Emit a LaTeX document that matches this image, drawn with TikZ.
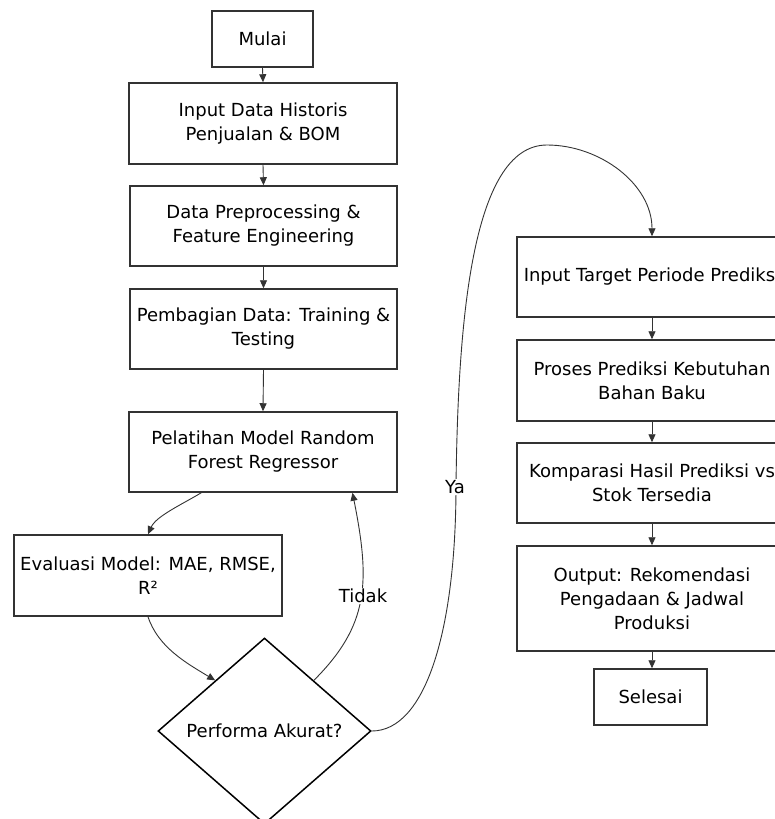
\documentclass[tikz,border=0pt]{standalone}
\usepackage{fontspec}
\setmainfont{DejaVu Sans}
\usetikzlibrary{arrows.meta,shapes.geometric,calc}
\definecolor{ink}{HTML}{333333}
\begin{document}
\begin{tikzpicture}[x=1pt,y=-1pt,
  font=\fontsize{18}{24}\selectfont,
  box/.style={draw=ink,line width=1.5pt,fill=white,align=center,inner sep=0pt,text=black},
  decision/.style={diamond,draw=black,line width=1.5pt,fill=white,inner sep=0pt,aspect=1.145,minimum width=213pt,minimum height=186pt},
  conn/.style={draw=ink,line width=0.9pt,-{Triangle[length=8pt,width=7pt]}},
  lbl/.style={fill=white,inner sep=1pt,text=black}]
\useasboundingbox (0,0) rectangle (774,819);
\fill[white] (0,0) rectangle (774,819);
% left column
\node[box,minimum width=101pt,minimum height=56pt] (mulai) at (262.5,39) {Mulai};
\node[box,minimum width=268pt,minimum height=81pt] (input) at (263,123.5) {Input Data Historis\\Penjualan \& BOM};
\node[box,minimum width=267pt,minimum height=80pt] (prep) at (263.5,226) {Data Preprocessing \&\\Feature Engineering};
\node[box,minimum width=267pt,minimum height=80pt] (bagi) at (263.5,329) {Pembagian Data: Training \&\\Testing};
\node[box,minimum width=268pt,minimum height=80pt] (latih) at (263,452) {Pelatihan Model Random\\Forest Regressor};
\node[box,minimum width=268pt,minimum height=81pt] (eval) at (148,575.5) {Evaluasi Model: MAE, RMSE,\\R²};
\node[decision] (dia) at (264.5,731) {Performa Akurat?};
% right column
\node[box,minimum width=270pt,minimum height=80pt] (target) at (652,277) {Input Target Periode Prediksi};
\node[box,minimum width=270pt,minimum height=81pt] (proses) at (652,380.5) {Proses Prediksi Kebutuhan\\Bahan Baku};
\node[box,minimum width=270pt,minimum height=80pt] (komp) at (652,483) {Komparasi Hasil Prediksi vs\\Stok Tersedia};
\node[box,minimum width=270pt,minimum height=105pt] (out) at (652,598.5) {Output: Rekomendasi\\Pengadaan \& Jadwal\\Produksi};
\node[box,minimum width=113pt,minimum height=56pt] (selesai) at (650.5,697) {Selesai};
% straight connectors
\draw[conn] (mulai.south) -- (input.north);
\draw[conn] (input.south) -- (prep.north);
\draw[conn] (prep.south) -- (bagi.north);
\draw[conn] (bagi.south) -- (latih.north);
\draw[conn] (target.south) -- (proses.north);
\draw[conn] (proses.south) -- (komp.north);
\draw[conn] (komp.south) -- (out.south |- komp.south) -- (out.north);
\draw[conn] (out.south) -- (out.south |- selesai.north);
% curved connectors
\coordinate (latihA) at ($(latih.south west)!0.271!(latih.south east)$);
\coordinate (latihB) at ($(latih.south west)!0.832!(latih.south east)$);
\coordinate (diaL) at ($(dia.north)!0.46!(dia.west)$);
\coordinate (diaR) at ($(dia.north)!0.46!(dia.east)$);
\draw[conn] (latihA) .. controls +(-20,12) and +(8,-18) .. (eval.north);
\draw[conn] (eval.south) .. controls +(10,30) and +(-30,-18) .. (diaL);
\draw[conn] (diaR) .. controls +(55,-55) and +(18,90) .. (latihB);
\node[lbl] (tidak) at (363,596) {Tidak};
\coordinate (ya) at (456,485);
\coordinate (yatop) at (547,145);
\draw[conn] (dia.east) .. controls +(54,0) and +(0,145) .. (ya)
  .. controls +(2,-155) and +(-77,0) .. (yatop)
  .. controls +(53,0) and +(0,-52) .. (target.north);
\node[lbl] (yalbl) at (455,487) {Ya};
\end{tikzpicture}
\end{document}
